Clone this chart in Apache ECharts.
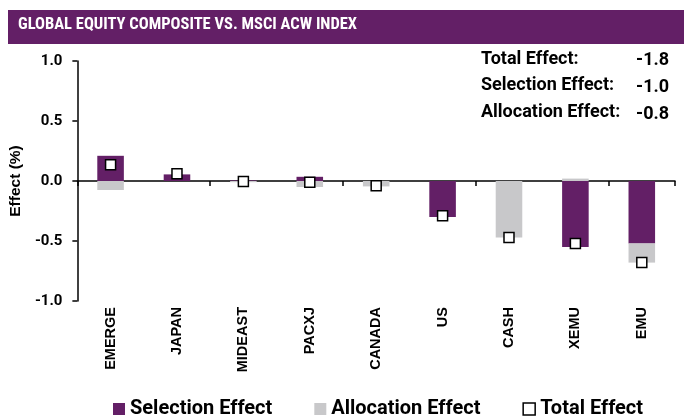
<!DOCTYPE html>
<html>
<head>
<meta charset="utf-8">
<script src="https://cdn.jsdelivr.net/npm/echarts@6/dist/echarts.min.js"></script>
<style>
  html, body { margin: 0; padding: 0; background: #fff; }
  #chart { width: 684px; height: 416px; }
</style>
</head>
<body>
<div id="chart"></div>
<script>
const categories = ['EMERGE', 'JAPAN', 'MIDEAST', 'PACXJ', 'CANADA', 'US', 'CASH', 'XEMU', 'EMU'];
const selectionEffect = [0.21, 0.055, 0.005, 0.035, 0.0, -0.30, 0.0, -0.55, -0.52];
const allocationEffect = [-0.075, 0.0, -0.01, -0.05, -0.045, 0.0, -0.47, 0.02, -0.16];
const totalEffect = [0.135, 0.06, -0.005, -0.01, -0.04, -0.29, -0.47, -0.52, -0.68];
const yTicks = [-1.0, -0.5, 0.0, 0.5, 1.0];
const summaryLabels = ['Total Effect:', 'Selection Effect:', 'Allocation Effect:'];
const summaryValues = ['-1.8', '-1.0', '-0.8'];

const PURPLE = '#631f66';
const GREY = '#c8c8ca';
const COND = '"Roboto Condensed", "DejaVu Sans Condensed", sans-serif';
const DIN = 'Roboto, "Noto Sans", sans-serif';
const SANS = '"Liberation Sans", Arial, sans-serif';

const chart = echarts.init(document.getElementById('chart'));

const summaryText = [];
summaryLabels.forEach((t, i) => {
  summaryText.push({
    type: 'text', left: 481, top: 50 + i * 26.5,
    style: { text: t, fill: '#000', font: 'bold 18px ' + DIN }
  });
  summaryText.push({
    type: 'text', right: 15, top: 51 + i * 27,
    style: { text: summaryValues[i], fill: '#000', font: 'bold 18px ' + DIN }
  });
});

const option = {
  animation: false,
  grid: { left: 77, right: 9, top: 61, bottom: 115 },
  graphic: [
    { type: 'rect', left: 8, top: 10, shape: { width: 676, height: 34 }, style: { fill: PURPLE } },
    {
      type: 'text', left: 18, top: 16,
      style: { text: 'GLOBAL EQUITY COMPOSITE VS. MSCI ACW INDEX', fill: '#fff', font: 'bold 16.5px ' + COND }
    }
  ].concat(summaryText),
  legend: {
    left: 113, top: 399, padding: 0,
    itemWidth: 12, itemHeight: 12, itemGap: 42,
    textStyle: { fontFamily: DIN, fontWeight: 'bold', fontSize: 20, color: '#000' },
    data: [
      { name: 'Selection Effect', icon: 'rect' },
      { name: 'Allocation Effect', icon: 'rect' },
      { name: 'Total Effect', icon: 'rect', itemStyle: { borderWidth: 1.5 } }
    ]
  },
  xAxis: [
    {
      type: 'category', data: categories,
      axisLine: { show: false, onZero: false },
      axisTick: { show: false },
      axisLabel: {
        rotate: 90, margin: 6, interval: 0,
        color: '#000', fontFamily: SANS, fontWeight: 'bold', fontSize: 14.5
      }
    },
    {
      type: 'category', data: categories, position: 'bottom',
      axisLine: { show: true, onZero: true, lineStyle: { color: '#000', width: 1.5 } },
      axisTick: { show: true, length: 5, lineStyle: { color: '#000', width: 1.5 } },
      axisLabel: { show: false }
    }
  ],
  yAxis: {
    type: 'value', min: -1, max: 1, interval: 0.5,
    name: 'Effect (%)', nameLocation: 'middle', nameGap: 54, nameRotate: 90,
    nameTextStyle: { color: '#000', fontFamily: SANS, fontWeight: 'bold', fontSize: 15.5, padding: [0, 0, -18, 0] },
    axisLine: { show: true, lineStyle: { color: '#000', width: 1.5 } },
    axisTick: { show: true, length: 5, lineStyle: { color: '#000', width: 1.5 } },
    splitLine: { show: false },
    axisLabel: {
      margin: 15, color: '#000', fontFamily: DIN, fontWeight: 'bold', fontSize: 15,
      formatter: v => yTicks.includes(v) ? v.toFixed(1) : ''
    }
  },
  series: [
    {
      name: 'Selection Effect', type: 'bar', stack: 'eff', barWidth: '40%',
      itemStyle: { color: PURPLE }, data: selectionEffect
    },
    {
      name: 'Allocation Effect', type: 'bar', stack: 'eff', barWidth: '40%',
      itemStyle: { color: GREY }, data: allocationEffect
    },
    {
      name: 'Total Effect', type: 'scatter', symbol: 'rect', symbolSize: 10, z: 5,
      itemStyle: { color: '#fff', borderColor: '#000', borderWidth: 1.5, opacity: 1 },
      data: totalEffect
    }
  ]
};
chart.setOption(option);
</script>
</body>
</html>
